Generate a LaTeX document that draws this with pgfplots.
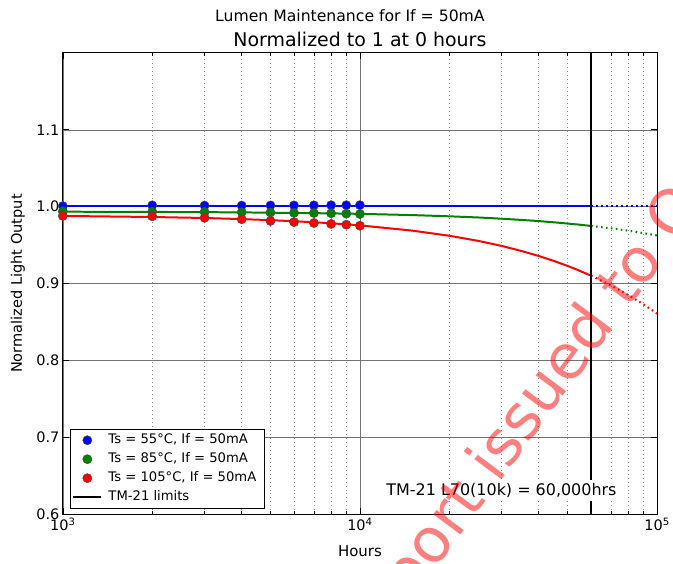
\documentclass[border=0pt]{standalone}
\usepackage{fontspec}
\setmainfont{DejaVu Sans}
\usepackage{pgfplots}
\pgfplotsset{compat=1.18}

\definecolor{mblue}{RGB}{0,0,255}
\definecolor{mgreen}{RGB}{0,128,0}
\definecolor{mred}{RGB}{255,0,0}

\begin{document}
\begin{tikzpicture}
\begin{axis}[
    width=596pt, height=463pt, scale only axis,
    xmode=log, log basis x=10,
    xmin=1000, xmax=100000,
    ymin=0.6, ymax=1.2,
    xtick={1000,10000,100000},
    xticklabels={10\textsuperscript{3},10\textsuperscript{4},10\textsuperscript{5}},
    minor xtick={2000,3000,4000,5000,6000,7000,8000,9000,20000,30000,40000,50000,60000,70000,80000,90000},
    ytick={0.6,0.7,0.8,0.9,1.0,1.1},
    yticklabels={0.6,0.7,0.8,0.9,1.0,1.1},
    ticklabel style={font=\fontsize{14.5}{17}\selectfont},
    xmajorgrids, xminorgrids, ymajorgrids,
    major grid style={black!55, line width=0.5pt},
    minor grid style={black!45, line width=0.6pt, dash pattern=on 1pt off 3pt},
    tick align=inside,
    major tick length=6pt, minor tick length=3pt,
    tick style={black, line width=0.6pt},
    axis line style={black, line width=0.9pt},
    xlabel={Hours},
    ylabel={Normalized Light Output},
    every axis x label/.style={at={(axis description cs:0.5,-0.08)}, anchor=center,
        font=\fontsize{15}{18}\selectfont},
    every axis y label/.style={at={(axis description cs:-0.0755,0.5)}, rotate=90, anchor=center,
        font=\fontsize{14.6}{17}\selectfont},
    legend image code/.code={\draw[mark repeat=2,mark phase=2,#1] plot coordinates {(0pt,0pt)(14pt,0pt)(28pt,0pt)};},
    legend style={at={(axis description cs:0,0)}, anchor=south west, xshift=7pt, yshift=6pt,
        draw=black, line width=0.8pt, fill=white,
        font=\fontsize{13.2}{15}\selectfont,
        row sep=1pt, inner xsep=2pt, inner ysep=2pt,
        nodes={inner xsep=6pt, inner ysep=2.5pt, text height=10pt, text depth=3pt}},
    legend cell align=left,
]
% fitted curves (solid up to 60,000 h, dotted beyond)
\addplot[mblue, line width=2pt, forget plot] coordinates {
 (1000,1.0015)(10000,1.0015)(60000,1.0015)};
\addplot[mblue, line width=2pt, dash pattern=on 1.6pt off 3.4pt, forget plot] coordinates {
 (60000,1.0015)(100000,1.0015)};
\addplot[mgreen, line width=2pt, forget plot] coordinates {
 (1000,0.9935)(2000,0.9932)(3000,0.9929)(4000,0.9926)(5000,0.9922)(6000,0.9919)
 (7000,0.9916)(8000,0.9913)(9000,0.9910)(10000,0.9907)(15000,0.9891)(20000,0.9875)
 (25000,0.9860)(30000,0.9844)(35000,0.9828)(40000,0.9813)(45000,0.9797)(50000,0.9781)
 (55000,0.9766)(60000,0.9750)};
\addplot[mgreen, line width=2pt, dash pattern=on 1.6pt off 3.4pt, forget plot] coordinates {
 (60000,0.9750)(70000,0.9719)(80000,0.9688)(90000,0.9657)(100000,0.9626)};
\addplot[mred, line width=2pt, forget plot] coordinates {
 (1000,0.9880)(2000,0.9866)(3000,0.9853)(4000,0.9839)(5000,0.9825)(6000,0.9811)
 (7000,0.9798)(8000,0.9784)(9000,0.9771)(10000,0.9757)(15000,0.9689)(20000,0.9622)
 (25000,0.9556)(30000,0.9490)(35000,0.9424)(40000,0.9359)(45000,0.9294)(50000,0.9230)
 (55000,0.9166)(60000,0.9103)};
\addplot[mred, line width=2pt, dash pattern=on 1.6pt off 3.4pt, forget plot] coordinates {
 (60000,0.9103)(70000,0.8977)(80000,0.8853)(90000,0.8731)(100000,0.8610)};
% measured points
\addplot[only marks, mark=*, mark size=4.6pt, mark options={fill=mblue, draw=black!70, line width=0.5pt}] coordinates {
 (1000,1.0008)(2000,1.0018)(3000,1.0015)(4000,1.0015)(5000,1.0017)
 (6000,1.0017)(7000,1.0018)(8000,1.0020)(9000,1.0020)(10000,1.0020)};
\addlegendentry{Ts = 55°C, If = 50mA}
\addplot[only marks, mark=*, mark size=4.6pt, mark options={fill=mgreen, draw=black!70, line width=0.5pt}] coordinates {
 (1000,0.9940)(2000,0.9935)(3000,0.9932)(4000,0.9928)(5000,0.9924)
 (6000,0.9920)(7000,0.9918)(8000,0.9915)(9000,0.9910)(10000,0.9905)};
\addlegendentry{Ts = 85°C, If = 50mA}
\addplot[only marks, mark=*, mark size=4.6pt, mark options={fill=mred, draw=black!70, line width=0.5pt}] coordinates {
 (1000,0.9880)(2000,0.9875)(3000,0.9855)(4000,0.9837)(5000,0.9815)
 (6000,0.9800)(7000,0.9788)(8000,0.9776)(9000,0.9766)(10000,0.9753)};
\addlegendentry{Ts = 105°C, If = 50mA}
% TM-21 limit
\addplot[black, line width=2.4pt] coordinates {(60000,0.6)(60000,1.2)};
\addlegendentry{TM-21 limits}
\node[fill=white, inner xsep=3pt, inner ysep=3pt, font=\fontsize{16}{19}\selectfont]
  at (axis cs:29960,0.6312) {TM-21 L70(10k) = 60,000hrs};
\end{axis}
\node[font=\fontsize{19}{22}\selectfont, anchor=center]
  at ([shift={(0pt,13pt)}]current axis.north) {Normalized to 1 at 0 hours};
\node[font=\fontsize{15.7}{18}\selectfont, anchor=center]
  at ([shift={(-10pt,37pt)}]current axis.north) {Lumen Maintenance for If = 50mA};
\node[overlay, rotate=53.4, text=red, opacity=0.5, font=\fontsize{62}{70}\selectfont, anchor=center]
  at ([shift={(460pt,90pt)}]current axis.south west) {Report issued to O};
\path ([shift={(-63pt,-49pt)}]current axis.south west) rectangle ([shift={(14pt,53pt)}]current axis.north east);
\end{tikzpicture}
\end{document}
